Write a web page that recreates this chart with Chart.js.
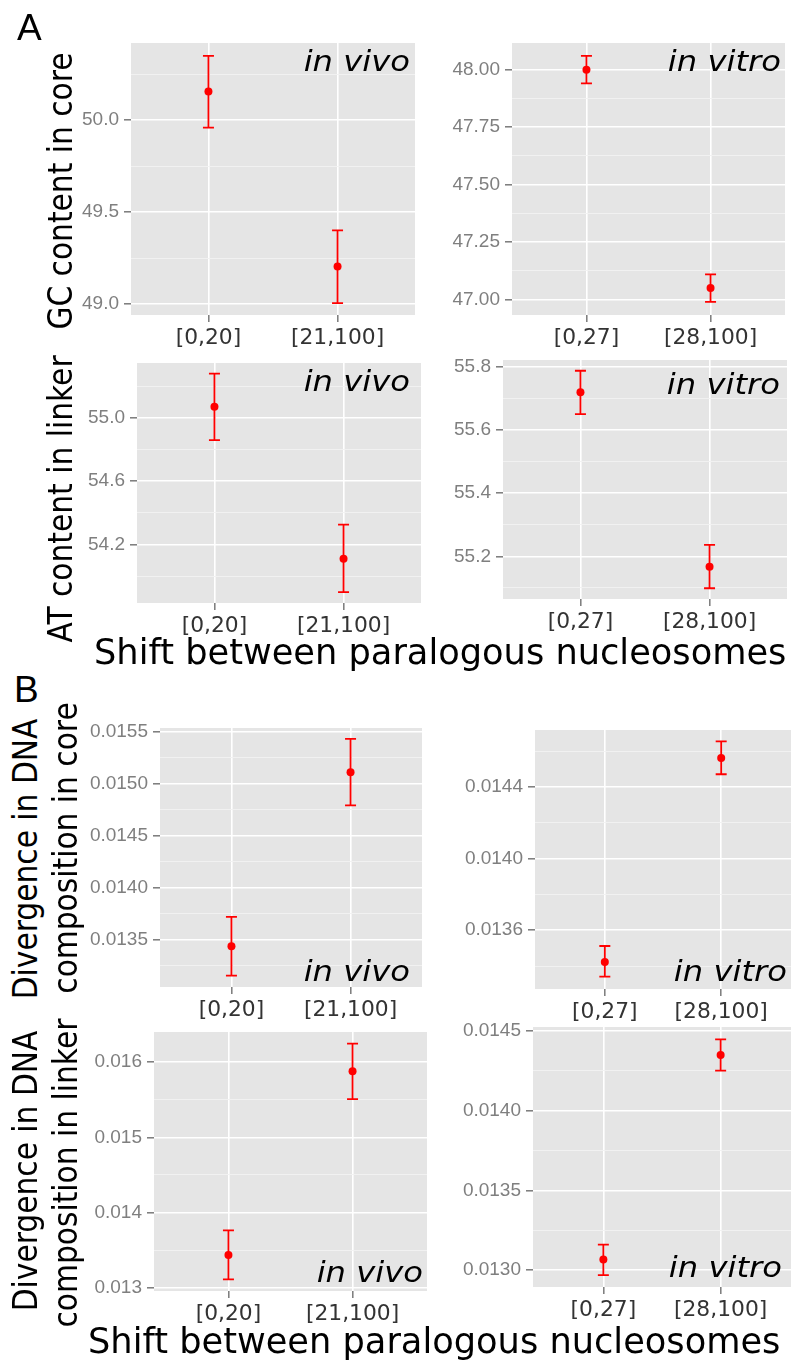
<!DOCTYPE html>
<html>
<head>
<meta charset="utf-8">
<script src="https://cdn.jsdelivr.net/npm/chart.js@4.4.1/dist/chart.umd.min.js"></script>
<style>
  body { margin: 0; background: #fff; width: 793px; height: 1362px; position: relative; overflow: hidden; }
  .box { position: absolute; }
  .txt { position: absolute; white-space: nowrap; line-height: 1; color: #000; font-family: "DejaVu Sans"; }
  .rot { transform: translate(-50%, -50%) rotate(-90deg) scaleX(0.9); }
  .tag { font-family: "Liberation Sans"; font-size: 37px; }
</style>
</head>
<body>
<script>
// categories
const catsVivo = ['[0,20]', '[21,100]'];
const catsVitro = ['[0,27]', '[28,100]'];

// A: GC content in core
const gcVivoMean = [50.156, 49.204];
const gcVivoLow = [49.96, 49.005];
const gcVivoHigh = [50.35, 49.40];
const gcVitroMean = [48.00, 47.05];
const gcVitroLow = [47.94, 46.99];
const gcVitroHigh = [48.06, 47.11];

// A: AT content in linker
const atVivoMean = [55.07, 54.11];
const atVivoLow = [54.86, 53.90];
const atVivoHigh = [55.28, 54.326];
const atVitroMean = [55.719, 55.167];
const atVitroLow = [55.65, 55.099];
const atVitroHigh = [55.787, 55.236];

// B: divergence in core
const coreVivoMean = [0.013435, 0.015112];
const coreVivoLow = [0.013152, 0.014793];
const coreVivoHigh = [0.013718, 0.015435];
const coreVitroMean = [0.013423, 0.014562];
const coreVitroLow = [0.013341, 0.014471];
const coreVitroHigh = [0.013512, 0.014655];

// B: divergence in linker
const linkVivoMean = [0.013438, 0.015876];
const linkVivoLow = [0.013115, 0.015508];
const linkVivoHigh = [0.013766, 0.016244];
const linkVitroMean = [0.013067, 0.01435];
const linkVitroLow = [0.01297, 0.014252];
const linkVitroHigh = [0.013161, 0.014448];

// y tick labels
const gcVivoTicks = ['49.0', '49.5', '50.0'];
const gcVitroTicks = ['47.00', '47.25', '47.50', '47.75', '48.00'];
const atVivoTicks = ['54.2', '54.6', '55.0'];
const atVitroTicks = ['55.2', '55.4', '55.6', '55.8'];
const coreVivoTicks = ['0.0135', '0.0140', '0.0145', '0.0150', '0.0155'];
const coreVitroTicks = ['0.0136', '0.0140', '0.0144'];
const linkVivoTicks = ['0.013', '0.014', '0.015', '0.016'];
const linkVitroTicks = ['0.0130', '0.0135', '0.0140', '0.0145'];

const YW = 100, PT = 18, PR = 2, XH = 45;

// panel rect = plot area on the page [left, top, right, bottom]
const panels = [
  {rect: [131, 43, 417, 315], cats: catsVivo, mean: gcVivoMean, low: gcVivoLow, high: gcVivoHigh,
   ticks: gcVivoTicks, ymin: 48.94, ymax: 50.42, tag: 'in vivo', tagAt: [410, 70.7]},
  {rect: [512, 43, 787, 315], cats: catsVitro, mean: gcVitroMean, low: gcVitroLow, high: gcVitroHigh,
   ticks: gcVitroTicks, ymin: 46.933, ymax: 48.116, tag: 'in vitro', tagAt: [781, 70.7]},
  {rect: [137, 363, 423, 603], cats: catsVivo, mean: atVivoMean, low: atVivoLow, high: atVivoHigh,
   ticks: atVivoTicks, ymin: 53.831, ymax: 55.347, tag: 'in vivo', tagAt: [410, 390.7]},
  {rect: [503, 360, 789, 599], cats: catsVitro, mean: atVitroMean, low: atVitroLow, high: atVitroHigh,
   ticks: atVitroTicks, ymin: 55.065, ymax: 55.821, tag: 'in vitro', tagAt: [780, 394]},
  {rect: [160, 728, 424, 987], cats: catsVivo, mean: coreVivoMean, low: coreVivoLow, high: coreVivoHigh,
   ticks: coreVivoTicks, ymin: 0.013042, ymax: 0.015539, tag: 'in vivo', tagAt: [410, 980.7]},
  {rect: [535, 730, 793, 989], cats: catsVitro, mean: coreVitroMean, low: coreVitroLow, high: coreVitroHigh,
   ticks: coreVitroTicks, ymin: 0.013272, ymax: 0.014718, tag: 'in vitro', tagAt: [787, 980.7]},
  {rect: [154, 1032, 429, 1291], cats: catsVivo, mean: linkVivoMean, low: linkVivoLow, high: linkVivoHigh,
   ticks: linkVivoTicks, ymin: 0.01296, ymax: 0.016398, tag: 'in vivo', tagAt: [423, 1281.7]},
  {rect: [533, 1027, 793, 1287], cats: catsVitro, mean: linkVitroMean, low: linkVitroLow, high: linkVitroHigh,
   ticks: linkVitroTicks, ymin: 0.012895, ymax: 0.014525, tag: 'in vitro', tagAt: [782, 1276.7]}
];

// grey panel background and the italic in vivo / in vitro tag
const panelDecor = {
  id: 'panelDecor',
  beforeDraw(chart, args, opts) {
    const a = chart.chartArea, ctx = chart.ctx;
    ctx.save();
    ctx.fillStyle = '#e5e5e5';
    ctx.fillRect(a.left, a.top, a.right - a.left, a.bottom - a.top);
    ctx.restore();
  },
  afterDraw(chart, args, opts) {
    const ctx = chart.ctx;
    ctx.save();
    ctx.translate(opts.tagAt[0] - opts.offX, opts.tagAt[1] - opts.offY);
    ctx.scale(1.15, 1);
    ctx.font = 'italic 28px "DejaVu Sans"';
    ctx.fillStyle = '#000';
    ctx.textAlign = 'right';
    ctx.textBaseline = 'alphabetic';
    ctx.fillText(opts.tag, 0, 0);
    ctx.restore();
  }
};

// ggplot style error bars, drawn through the chart scales
const errorBars = {
  id: 'errorBars',
  beforeDatasetsDraw(chart, args, opts) {
    const {ctx, scales: {x, y}} = chart;
    ctx.save();
    ctx.strokeStyle = '#ff0000';
    ctx.lineWidth = 1.8;
    opts.low.forEach((lo, i) => {
      const px = x.getPixelForValue(i + 1);
      const y1 = y.getPixelForValue(lo);
      const y2 = y.getPixelForValue(opts.high[i]);
      ctx.beginPath();
      ctx.moveTo(px, y1); ctx.lineTo(px, y2);
      ctx.moveTo(px - 5.5, y1); ctx.lineTo(px + 5.5, y1);
      ctx.moveTo(px - 5.5, y2); ctx.lineTo(px + 5.5, y2);
      ctx.stroke();
    });
    ctx.restore();
  }
};

function buildChart(p) {
  const [L, T, R, B] = p.rect;
  const box = document.createElement('div');
  box.className = 'box';
  box.style.left = (L - YW) + 'px';
  box.style.top = (T - PT) + 'px';
  box.style.width = (R - L + YW + PR) + 'px';
  box.style.height = (B - T + PT + XH) + 'px';
  const cv = document.createElement('canvas');
  box.appendChild(cv);
  document.body.appendChild(box);

  const majors = p.ticks.map(Number);
  const half = (majors[1] - majors[0]) / 2;

  new Chart(cv, {
    type: 'scatter',
    data: {
      datasets: [{
        data: p.mean.map((v, i) => ({x: i + 1, y: v})),
        backgroundColor: '#ff0000',
        borderWidth: 0,
        pointRadius: 4,
        pointHoverRadius: 4
      }]
    },
    options: {
      animation: false,
      responsive: true,
      maintainAspectRatio: false,
      events: [],
      layout: {padding: {top: PT, right: PR, left: 0, bottom: 0}},
      plugins: {
        legend: {display: false},
        tooltip: {enabled: false},
        errorBars: {low: p.low, high: p.high},
        panelDecor: {tag: p.tag, tagAt: p.tagAt, offX: L - YW, offY: T - PT}
      },
      scales: {
        x: {
          type: 'linear',
          min: 0.4,
          max: 2.6,
          afterBuildTicks: s => { s.ticks = p.cats.map((c, i) => ({value: i + 1})); },
          afterFit: s => { s.height = XH; },
          border: {display: false},
          grid: {color: '#ffffff', lineWidth: 1.6, tickColor: '#7a7a7a', tickLength: 7, tickWidth: 1.5},
          ticks: {
            autoSkip: false, maxRotation: 0, padding: 3, color: '#333333',
            font: {family: 'DejaVu Sans', size: 21.8},
            callback: v => p.cats[v - 1]
          }
        },
        y: {
          type: 'linear',
          min: p.ymin,
          max: p.ymax,
          afterBuildTicks: s => {
            const out = [];
            for (let k = -2; k <= 2 * majors.length + 2; k++) {
              const v = majors[0] + k * half;
              if (v < p.ymin || v > p.ymax) continue;
              out.push({value: v, lab: k % 2 === 0 ? p.ticks[k / 2] : ''});
            }
            s.ticks = out;
          },
          afterFit: s => { s.width = YW; },
          border: {display: false},
          grid: {
            color: c => (c.tick && c.tick.lab) ? '#ffffff' : '#f2f2f2',
            lineWidth: c => (c.tick && c.tick.lab) ? 1.6 : 0.9,
            tickColor: c => (c.tick && c.tick.lab) ? '#7a7a7a' : 'rgba(0,0,0,0)',
            tickLength: 7,
            tickWidth: 1.5
          },
          ticks: {
            autoSkip: false, padding: 5, color: '#7f7f7f',
            font: {family: 'Liberation Sans', size: 19},
            callback: (v, i, ticks) => ticks[i].lab || ''
          }
        }
      }
    },
    plugins: [panelDecor, errorBars]
  });
}

panels.forEach(buildChart);

// page texts: panel letters and axis titles
function addText(text, cls, style) {
  const d = document.createElement('div');
  d.className = 'txt ' + cls;
  d.textContent = text;
  Object.assign(d.style, style);
  document.body.appendChild(d);
}
addText('A', 'tag', {left: '17px', top: '8.7px'});
addText('B', 'tag', {left: '14px', top: '670.7px'});
addText('Shift between paralogous nucleosomes', '', {left: '94px', top: '634.2px', fontSize: '35.2px'});
addText('Shift between paralogous nucleosomes', '', {left: '88px', top: '1323.2px', fontSize: '35.2px'});
addText('GC content in core', 'rot', {left: '60.3px', top: '190.5px', fontSize: '33px'});
addText('AT content in linker', 'rot', {left: '60.3px', top: '499px', fontSize: '33px'});
addText('Divergence in DNA', 'rot', {left: '25.3px', top: '859px', fontSize: '33px'});
addText('composition in core', 'rot', {left: '65.1px', top: '848px', fontSize: '33px'});
addText('Divergence in DNA', 'rot', {left: '25.3px', top: '1171px', fontSize: '33px'});
addText('composition in linker', 'rot', {left: '65.1px', top: '1173px', fontSize: '33px'});
</script>
</body>
</html>
